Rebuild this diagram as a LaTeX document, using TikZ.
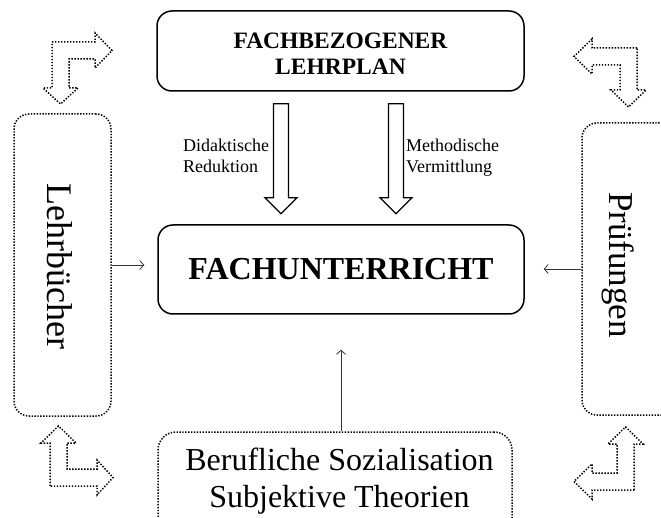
\documentclass[tikz,border=0pt]{standalone}
\usepackage{fontspec}
\setmainfont{Liberation Serif}
\usetikzlibrary{arrows.meta,calc}
\tikzset{
  solidbox/.style={draw=black, line width=1.5pt, rounded corners=15pt, inner sep=0pt},
  dotbox/.style={draw=black, line width=1.5pt, dash pattern=on 1.4pt off 1.5pt, rounded corners=15pt, inner sep=0pt},
  dotarrow/.style={draw=black, line width=1.5pt, dash pattern=on 1.4pt off 1.6pt, line join=miter},
  blockarrow/.style={draw=black, line width=1.4pt, fill=white, line join=miter},
  thinarrow/.style={draw=black!80, line width=0.8pt, -{Straight Barb[length=4pt,width=9pt]}},
  lbl/.style={font=\fontsize{18}{21}\selectfont, align=left, inner sep=0pt, anchor=north west},
}
\begin{document}
\begin{tikzpicture}[x=1pt,y=-1pt]
\useasboundingbox (0,0) rectangle (661,518);
\clip (0,0) rectangle (661,518);

% main boxes
\node[solidbox, minimum width=367pt, minimum height=80pt] (lp) at (340.5,51) {};
\node[font=\bfseries\fontsize{23.5}{26}\selectfont, align=center, inner sep=0pt] (lpt) at (340.5,54) {FACHBEZOGENER\\LEHRPLAN};
\node[solidbox, minimum width=366pt, minimum height=89pt, font=\bfseries\fontsize{32}{36}\selectfont] (fu) at (341,269.5) {FACHUNTERRICHT};

% side boxes
\node[dotbox, minimum width=97pt, minimum height=302pt] (lehr) at (62.5,265) {};
\node[rotate=-90, font=\fontsize{36}{40}\selectfont, inner sep=0pt] (lehrt) at (59.5,266.5) {Lehrbücher};
\node[dotbox, minimum width=110pt, minimum height=292pt] (pruf) at (637,269) {};
\node[rotate=-90, font=\fontsize{35}{40}\selectfont, inner sep=0pt] (pruft) at (618,265) {Prüfungen};

% bottom box
\node[dotbox, rounded corners=18pt, minimum width=354pt, minimum height=110pt] (soz) at (335,487) {};
\node[font=\fontsize{32}{37}\selectfont, align=center, inner sep=0pt] (sozt) at (339.5,481) {Berufliche Sozialisation\\Subjektive Theorien};

% labels
\node[lbl] (dr) at (183,138.7) {Didaktische\\Reduktion};
\node[lbl] (mv) at (406,138.7) {Methodische\\Vermittlung};

% block arrows
\coordinate (b1) at ($(lp.south)+(-59.5,12)$);
\coordinate (b2) at ($(lp.south)+(55.5,12)$);
\draw[blockarrow] (b1) ++(-7.5,0) -- ++(15,0) -- ++(0,94) -- ++(8.5,0) -- ++(-16,16) -- ++(-16,-16) -- ++(8.5,0) -- cycle;
\draw[blockarrow] (b2) ++(-7.5,0) -- ++(15,0) -- ++(0,94) -- ++(8.5,0) -- ++(-16,16) -- ++(-16,-16) -- ++(8.5,0) -- cycle;

% thin arrows
\draw[thinarrow, shorten >=13pt] (lehr.east) -- (lehr.east -| fu.west);
\draw[thinarrow, shorten >=19pt] (pruf.west) -- (pruf.west -| fu.east);
\draw[thinarrow, shorten >=35pt] (fu.south |- soz.north) -- (fu.south);

% corner bent arrows
\draw[dotarrow] (52,42) -- (95,42) -- (95,33) -- (112,50.5) -- (95,68) -- (95,59) -- (69,59) -- (69,88) -- (78,88) -- (60.5,104) -- (43,88) -- (52,88) -- cycle;
\draw[dotarrow] (637,48) -- (592,48) -- (592,39) -- (574,56.5) -- (592,74) -- (592,65) -- (620,65) -- (620,90) -- (611,90) -- (628.5,107) -- (646,90) -- (637,90) -- cycle;
\draw[dotarrow] (50,486) -- (50,443) -- (41,443) -- (58.5,426) -- (76,443) -- (67,443) -- (67,469) -- (97,469) -- (97,460) -- (113,477.5) -- (97,495) -- (97,486) -- cycle;
\draw[dotarrow] (634,490) -- (634,444) -- (643,444) -- (625.5,427) -- (608,444) -- (617,444) -- (617,473) -- (592,473) -- (592,464) -- (574,481.5) -- (592,499) -- (592,490) -- cycle;
\end{tikzpicture}
\end{document}
